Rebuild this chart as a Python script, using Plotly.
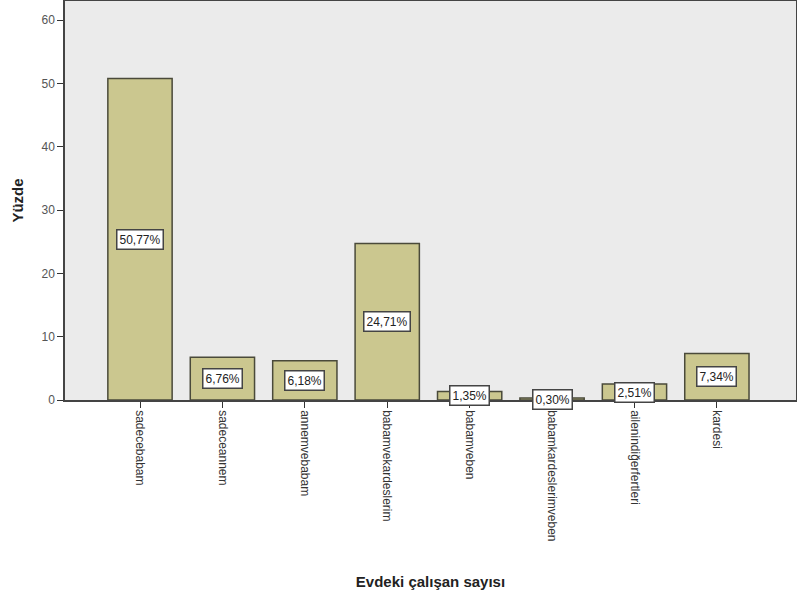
import plotly.graph_objects as go

categories = ["sadecebabam", "sadeceannem", "annemvebabam", "babamvekardeslerim",
              "babamveben", "babamkardeslerimveben", "ailenindiğerfertleri", "kardesi"]
values = [50.77, 6.76, 6.18, 24.71, 1.35, 0.30, 2.51, 7.34]
y_ticks = [0, 10, 20, 30, 40, 50, 60]

FONT = "Liberation Sans, Arial, sans-serif"

fig = go.Figure()
fig.add_trace(go.Bar(
    x=categories, y=values,
    marker=dict(color="#cbc78f", line=dict(color="#4a4a3a", width=1.5)),
    width=0.78,
    showlegend=False,
))

for c, v in zip(categories, values):
    fig.add_annotation(
        x=c, y=v / 2, xref="x", yref="y",
        text=f"{v:.2f}%".replace(".", ","),
        showarrow=False,
        font=dict(family=FONT, size=12, color="#222"),
        bgcolor="white", bordercolor="#444", borderwidth=1.5, borderpad=2,
    )

fig.update_layout(
    width=797, height=603,
    margin=dict(l=65, r=1, t=1, b=203, autoexpand=False),
    paper_bgcolor="white",
    plot_bgcolor="#ebebeb",
    font=dict(family=FONT, size=12, color="#333"),
)
fig.update_xaxes(
    range=[-0.91, 7.96],
    tickangle=90,
    automargin=False,
    ticks="outside", ticklen=6, tickcolor="#333",
    showline=True, linecolor="#444", linewidth=1.5, mirror=True,
    showgrid=False,
    tickfont=dict(family=FONT, size=12, color="#333"),
    title=dict(text="<b>Evdeki çalışan sayısı</b>", font=dict(family=FONT, size=15, color="#222"), standoff=36),
)
fig.update_yaxes(
    range=[0, 63],
    tickvals=y_ticks,
    automargin=False,
    ticks="outside", ticklen=6, tickcolor="#333",
    showline=True, linecolor="#444", linewidth=1.5, mirror=True,
    showgrid=False, zeroline=False,
    tickfont=dict(family=FONT, size=12, color="#555"),
    title=dict(text="<b>Yüzde</b>", font=dict(family=FONT, size=15, color="#222"), standoff=14),
)

fig.write_html("out.html", config={"displayModeBar": False},
               post_script="document.body.style.margin='0';")
